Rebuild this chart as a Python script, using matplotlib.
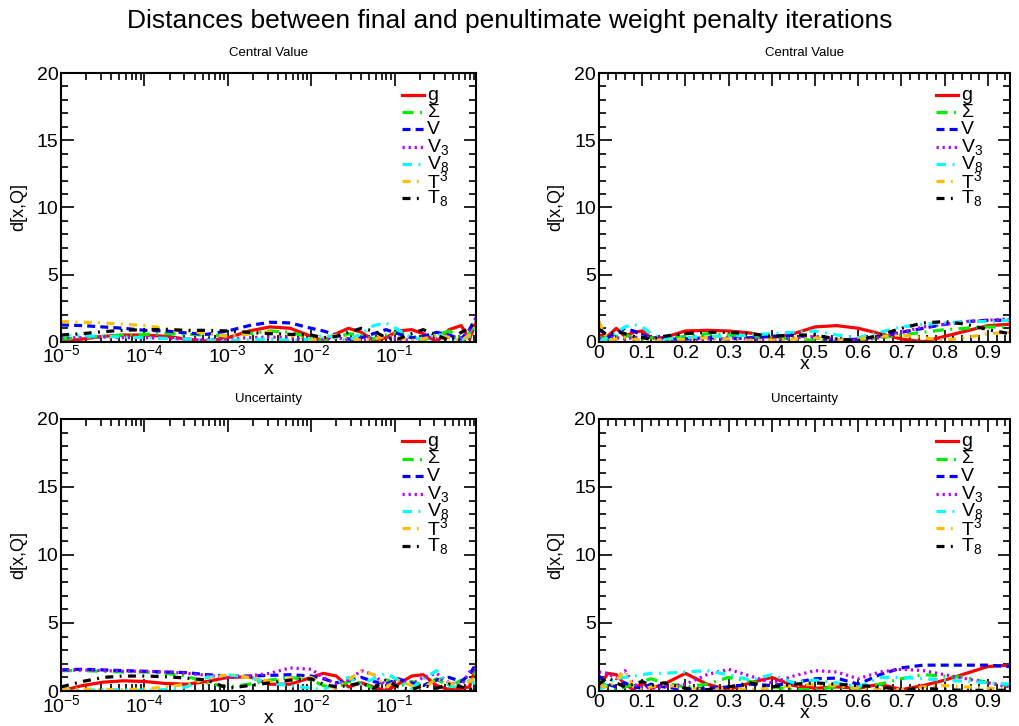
"""
Distances between final and penultimate weight penalty iterations,
four panels (central value / uncertainty, log-x and linear-x)
"""

import matplotlib
matplotlib.use("Agg")
from matplotlib import pyplot as plt
from matplotlib.ticker import MultipleLocator, LogLocator, NullFormatter

plt.rcParams['font.family'] = ['Liberation Sans', 'DejaVu Sans']
plt.rcParams['mathtext.fontset'] = 'custom'
plt.rcParams['mathtext.rm'] = 'Liberation Sans'
plt.rcParams['mathtext.it'] = 'Liberation Sans:italic'

# ---- data ----
x_log = [1e-5, 1.8e-5, 3.2e-5, 5.6e-5, 1e-4, 1.8e-4, 3.2e-4, 5.6e-4, 1e-3,
         1.8e-3, 3.2e-3, 5.6e-3, 0.01, 0.014, 0.02, 0.028, 0.04, 0.056,
         0.079, 0.11, 0.16, 0.22, 0.32, 0.45, 0.63, 0.79, 0.95]
x_lin = [0, 0.02, 0.04, 0.06, 0.08, 0.1, 0.12, 0.15, 0.2, 0.25, 0.3, 0.35,
         0.4, 0.45, 0.5, 0.55, 0.6, 0.65, 0.7, 0.75, 0.8, 0.85, 0.9, 0.95]

labels = ["g", r"$\Sigma$", "V", r"V$_3$", r"V$_8$", r"T$^3$", r"T$_8$"]

# central value, log x
cv_log_g = [0.0, 0.2, 0.4, 0.5, 0.5, 0.4, 0.2, 0.05, 0.3, 0.8, 1.1, 1.0, 0.4, 0.05,
            0.6, 1.0, 0.7, 0.1, 0.3, 0.8, 0.9, 0.6, 0.0, 0.9, 1.2, 0.2, 1.4]
cv_log_sigma = [0.2, 0.3, 0.4, 0.5, 0.55, 0.6, 0.55, 0.5, 0.45, 0.6, 0.8, 0.7, 0.3, 0.05,
                0.3, 0.6, 0.5, 0.2, 0.5, 0.7, 0.4, 0.1, 0.5, 0.8, 0.3, 0.6, 1.6]
cv_log_v = [1.25, 1.2, 1.1, 1.0, 0.85, 0.8, 0.65, 0.55, 0.8, 1.2, 1.45, 1.4, 1.0, 0.8,
            0.5, 0.2, 0.3, 0.6, 0.9, 0.6, 0.3, 0.4, 0.7, 0.5, 0.2, 0.9, 1.8]
cv_log_v3 = [0.3, 0.3, 0.35, 0.3, 0.3, 0.25, 0.2, 0.15, 0.2, 0.3, 0.35, 0.3, 0.1, 0.2,
             0.3, 0.15, 0.1, 0.3, 0.4, 0.2, 0.1, 0.3, 0.2, 0.4, 0.3, 0.8, 1.8]
cv_log_v8 = [0.5, 0.45, 0.4, 0.35, 0.3, 0.25, 0.2, 0.1, 0.1, 0.15, 0.2, 0.1, 0.2, 0.5,
             0.3, 0.1, 0.6, 1.2, 1.4, 0.9, 0.3, 0.2, 0.6, 0.3, 0.1, 0.4, 1.0]
cv_log_t3 = [1.5, 1.45, 1.4, 1.3, 1.2, 1.0, 0.8, 0.6, 0.4, 0.6, 0.7, 0.5, 0.1, 0.3,
             0.5, 0.3, 0.1, 0.2, 0.4, 0.3, 0.1, 0.2, 0.5, 0.3, 0.1, 0.5, 1.2]
cv_log_t8 = [0.5, 0.6, 0.75, 0.85, 0.9, 0.9, 0.85, 0.85, 0.8, 0.7, 0.6, 0.55, 0.5, 0.3,
             0.4, 0.7, 1.0, 0.8, 0.3, 0.2, 0.6, 0.9, 0.5, 0.1, 0.7, 1.0, 1.5]

# central value, linear x
cv_lin_g = [0.5, 0.4, 1.0, 0.4, 0.7, 0.8, 0.3, 0.3, 0.8, 0.85, 0.8, 0.65,
            0.3, 0.6, 1.1, 1.2, 1.0, 0.6, 0.2, 0.0, 0.4, 0.8, 1.2, 1.3]
cv_lin_sigma = [0.3, 0.2, 0.4, 0.5, 0.3, 0.2, 0.3, 0.2, 0.4, 0.6, 0.5, 0.3,
                0.3, 0.2, 0.1, 0.0, 0.1, 0.3, 0.5, 0.7, 0.9, 1.0, 1.1, 1.1]
cv_lin_v = [1.1, 0.3, 0.6, 1.0, 0.8, 0.5, 0.3, 0.2, 0.2, 0.3, 0.2, 0.3,
            0.4, 0.5, 0.3, 0.1, 0.2, 0.4, 0.7, 1.0, 1.3, 1.5, 1.6, 1.6]
cv_lin_v3 = [0.2, 0.3, 0.3, 0.2, 0.3, 0.4, 0.3, 0.2, 0.1, 0.2, 0.3, 0.2,
             0.1, 0.3, 0.4, 0.2, 0.1, 0.3, 0.7, 1.1, 1.3, 1.5, 1.6, 1.7]
cv_lin_v8 = [0.0, 0.3, 0.7, 1.1, 1.3, 1.1, 0.6, 0.2, 0.3, 0.4, 0.4, 0.5,
             0.6, 0.7, 0.8, 0.5, 0.3, 0.7, 1.1, 1.3, 1.4, 1.5, 1.5, 1.6]
cv_lin_t3 = [1.5, 0.1, 0.2, 0.3, 0.2, 0.1, 0.2, 0.1, 0.2, 0.3, 0.2, 0.1,
             0.1, 0.2, 0.3, 0.1, 0.2, 0.4, 0.5, 0.3, 0.1, 0.3, 0.6, 0.7]
cv_lin_t8 = [0.9, 0.5, 0.8, 0.6, 0.4, 0.3, 0.2, 0.4, 0.6, 0.7, 0.7, 0.6,
             0.4, 0.5, 0.5, 0.2, 0.1, 0.5, 1.0, 1.4, 1.5, 1.3, 0.9, 0.6]

# uncertainty, log x
unc_log_g = [0.0, 0.4, 0.65, 0.75, 0.7, 0.55, 0.5, 0.7, 1.0, 1.05, 0.5, 0.5, 1.0, 1.3,
             1.1, 0.3, 0.6, 0.3, 0.0, 0.5, 1.1, 1.2, 0.4, 0.1, 0.2, 0.3, 1.8]
unc_log_sigma = [1.5, 1.5, 1.45, 1.4, 1.4, 1.3, 1.1, 0.6, 0.3, 0.5, 0.8, 1.0, 0.8, 0.4,
                 0.2, 0.7, 0.6, 0.2, 0.9, 0.3, 0.7, 0.4, 0.9, 0.3, 0.8, 0.5, 1.5]
unc_log_v = [1.55, 1.6, 1.55, 1.5, 1.45, 1.4, 1.35, 1.2, 1.1, 1.1, 1.15, 1.2, 1.1, 0.9,
             0.6, 0.8, 1.0, 0.7, 0.5, 0.9, 0.6, 0.4, 0.8, 1.0, 0.7, 1.2, 2.0]
unc_log_v3 = [1.5, 1.55, 1.5, 1.45, 1.45, 1.4, 1.3, 1.15, 1.0, 1.1, 1.3, 1.7, 1.6, 1.0,
              0.5, 0.8, 1.5, 1.2, 0.4, 0.8, 0.5, 1.0, 1.3, 0.6, 0.4, 1.4, 1.6]
unc_log_v8 = [0.1, 0.05, 0.1, 0.1, 0.05, 0.1, 0.3, 1.0, 1.2, 1.0, 0.6, 0.4, 0.2, 0.1,
              0.6, 1.0, 0.5, 0.9, 1.3, 0.8, 0.2, 0.9, 1.5, 0.4, 0.2, 0.8, 0.5]
unc_log_t3 = [0.2, 0.15, 0.1, 0.1, 0.15, 0.3, 0.5, 0.9, 1.2, 1.0, 0.7, 0.9, 1.0, 0.5,
              0.2, 0.8, 1.5, 1.2, 0.3, 0.8, 0.4, 0.2, 0.9, 0.6, 0.3, 0.7, 1.0]
unc_log_t8 = [0.3, 0.7, 1.0, 1.1, 1.1, 1.05, 0.95, 0.8, 0.2, 0.4, 0.6, 0.8, 0.9, 0.5,
              0.3, 0.4, 0.6, 0.2, 0.8, 0.3, 0.1, 0.4, 0.2, 0.5, 0.3, 0.1, 0.2]

# uncertainty, linear x
unc_lin_g = [0.2, 1.3, 1.2, 0.5, 0.1, 0.6, 0.2, 0.5, 1.3, 0.5, 0.1, 0.6,
             1.0, 0.4, 0.2, 0.3, 0.2, 0.5, 0.1, 0.4, 0.8, 1.3, 1.8, 1.9]
unc_lin_sigma = [0.8, 0.3, 0.1, 0.3, 0.5, 0.7, 0.9, 0.6, 0.3, 0.5, 1.0, 0.7,
                 0.3, 0.1, 0.1, 0.3, 0.2, 0.5, 0.9, 1.2, 1.1, 1.0, 0.6, 0.4]
unc_lin_v = [1.1, 0.5, 0.3, 0.6, 0.3, 0.2, 0.5, 0.3, 0.1, 0.2, 0.3, 0.5,
             0.4, 0.6, 0.9, 0.95, 0.5, 1.2, 1.7, 1.9, 1.9, 1.9, 1.9, 1.8]
unc_lin_v3 = [1.4, 1.3, 0.9, 1.5, 0.5, 0.3, 0.2, 0.3, 0.5, 1.2, 1.6, 1.1,
              0.6, 1.1, 1.5, 1.4, 0.9, 1.4, 1.6, 1.5, 1.2, 0.9, 0.6, 0.3]
unc_lin_v8 = [0.0, 0.6, 0.9, 1.0, 1.1, 1.2, 1.3, 1.3, 1.4, 1.5, 1.2, 0.8,
              1.2, 0.6, 0.8, 0.6, 0.3, 1.0, 1.0, 0.9, 0.8, 0.7, 0.6, 0.5]
unc_lin_t3 = [0.5, 0.2, 0.8, 1.5, 0.3, 0.1, 0.3, 0.5, 0.2, 0.1, 0.2, 0.1,
              0.2, 0.4, 0.5, 0.4, 0.2, 0.1, 0.1, 0.3, 0.4, 0.3, 0.2, 0.15]
unc_lin_t8 = [0.5, 1.0, 0.6, 0.3, 0.5, 0.7, 0.4, 0.6, 0.2, 0.1, 0.3, 0.6,
              0.3, 0.5, 0.6, 0.5, 0.4, 0.3, 0.1, 0.2, 0.1, 0.05, 0.05, 0.05]

# ---- styles ----
colors = ["#ff0000", "#00ee00", "#0000ff", "#bf00ff", "#00ffff", "#ffbf00", "#000000"]
styles = ["-", (0, (3.5, 2, 0.6, 2)), (0, (2.5, 1.6)), (0, (0.7, 1.2)),
          (0, (3, 2, 0.6, 2)), (0, (2.5, 2, 0.6, 2)), (0, (2.5, 2, 0.6, 2))]
LW = 2.3


def draw_panel(ax, x, curves, title, logx):
    """draw one panel with its curves, ROOT-like frame and hand-made legend"""
    for ind, y in enumerate(curves):
        ax.plot(x, y, color=colors[ind], linestyle=styles[ind], linewidth=LW, clip_on=True)

    ax.set_ylim(0, 20)
    if logx:
        ax.set_xscale("log")
        ax.set_xlim(1e-5, 0.95)
        ax.xaxis.set_major_locator(LogLocator(base=10, numticks=10))
        ax.xaxis.set_minor_locator(LogLocator(base=10, subs=range(2, 10), numticks=50))
        ax.xaxis.set_minor_formatter(NullFormatter())
    else:
        ax.set_xlim(0, 0.95)
        ax.xaxis.set_minor_locator(MultipleLocator(0.02))
        ax.set_xticks([0, 0.1, 0.2, 0.3, 0.4, 0.5, 0.6, 0.7, 0.8, 0.9])
        ax.set_xticklabels(["0", "0.1", "0.2", "0.3", "0.4", "0.5", "0.6", "0.7", "0.8", "0.9"])
    ax.yaxis.set_major_locator(MultipleLocator(5))
    ax.yaxis.set_minor_locator(MultipleLocator(1))

    ax.tick_params(which="both", direction="in", top=True, right=True, labelsize=14, pad=2)
    ax.tick_params(which="major", length=9, width=1.2)
    ax.tick_params(which="minor", length=5, width=1.2)
    for sp in ax.spines.values():
        sp.set_linewidth(1.5)

    ax.set_title(title, fontsize=9.5, pad=12)
    ax.set_ylabel("d[x,Q]", fontsize=13, labelpad=7)
    ax.set_xlabel("x", fontsize=14, labelpad=-4)

    # legend, drawn by hand in axes coordinates
    y0 = 0.918
    for ind, lab in enumerate(labels):
        yy = y0 - ind * 0.064
        ax.plot([0.822, 0.875], [yy, yy], transform=ax.transAxes, color=colors[ind],
                linestyle=styles[ind], linewidth=LW, clip_on=False)
        ax.text(0.882, yy, lab, transform=ax.transAxes, fontsize=14,
                va="center", ha="left")


fig = plt.figure(figsize=(10.19, 7.26), dpi=100)
fig.suptitle("Distances between final and penultimate weight penalty iterations",
             fontsize=19, y=0.988)

ax1 = fig.add_axes([0.0599, 0.5293, 0.4073, 0.3701])
ax2 = fig.add_axes([0.5878, 0.5293, 0.4029, 0.3701])
ax3 = fig.add_axes([0.0599, 0.0482, 0.4073, 0.3747])
ax4 = fig.add_axes([0.5878, 0.0482, 0.4029, 0.3747])

draw_panel(ax1, x_log, [cv_log_g, cv_log_sigma, cv_log_v, cv_log_v3, cv_log_v8, cv_log_t3, cv_log_t8],
           "Central Value", True)
draw_panel(ax2, x_lin, [cv_lin_g, cv_lin_sigma, cv_lin_v, cv_lin_v3, cv_lin_v8, cv_lin_t3, cv_lin_t8],
           "Central Value", False)
draw_panel(ax3, x_log, [unc_log_g, unc_log_sigma, unc_log_v, unc_log_v3, unc_log_v8, unc_log_t3, unc_log_t8],
           "Uncertainty", True)
draw_panel(ax4, x_lin, [unc_lin_g, unc_lin_sigma, unc_lin_v, unc_lin_v3, unc_lin_v8, unc_lin_t3, unc_lin_t8],
           "Uncertainty", False)

fig.savefig("out.png", dpi=100)
